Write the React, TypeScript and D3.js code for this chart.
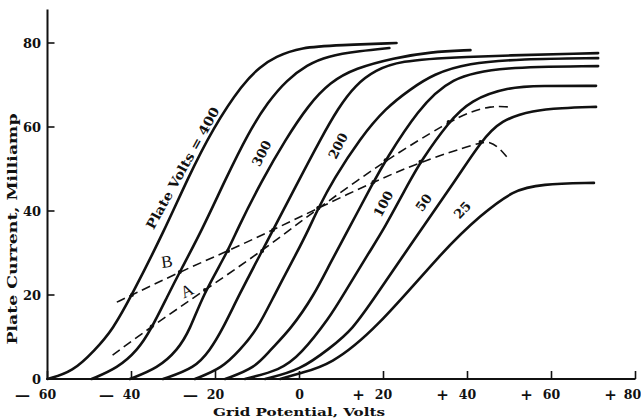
import React from "react";
import * as d3 from "d3";

const W = 641;
const H = 420;

const xTicks = [-60, -40, -20, 0, 20, 40, 60, 80];
const xTickSigns = ["—", "—", "—", "", "+", "+", "+", "+"];
const xTickNumbers = ["60", "40", "20", "0", "20", "40", "60", "80"];
const yTicks = [0, 20, 40, 60, 80];
const yTickLabels = ["0", "20", "40", "60", "80"];

const plateVolts = [400, 350, 300, 250, 200, 150, 100, 50, 25];

// [grid volts, plate current mA]
const curve400 = [[-60, 0], [-54, 1.7], [-48.7, 6.9], [-44.5, 11.7], [-39.9, 20], [-32.1, 35.5], [-26.8, 47.4], [-20.6, 59.8], [-13.4, 70.5], [-9.4, 74.3], [-5.8, 76.7], [0.2, 79], [9.7, 79.5], [23.1, 80]];
const curve350 = [[-49.5, 0], [-43.3, 2.6], [-38.5, 6.9], [-35.4, 11.7], [-31.3, 20], [-28.5, 25.5], [-23.2, 35.5], [-17.7, 47.4], [-12.2, 58.6], [-7.5, 66], [-3, 71.2], [1.8, 74.8], [6.6, 76.9], [14.5, 78.1], [21.4, 78.8]];
const curve300 = [[-40.4, 0], [-33.7, 2.6], [-29, 6.9], [-26.1, 11.7], [-23, 20], [-17, 30.5], [-14.9, 35.5], [-8.9, 47.4], [-3.4, 56.9], [2.1, 65.2], [7.3, 70.7], [13.3, 74], [22.4, 76.4], [31.2, 77.9], [40.7, 78.3]];
const curve250 = [[-32.5, 0], [-24.9, 2.6], [-21.3, 6.9], [-18.4, 11.7], [-14.4, 20], [-8.9, 30.5], [-6.3, 35.5], [-0.1, 47.4], [4.9, 56.9], [9.2, 64.5], [13.3, 70], [18.1, 73.6], [24, 75.7], [36, 76.7], [71.1, 77.6]];
const curve200 = [[-24.9, 0], [-18.4, 2.6], [-14.2, 6.9], [-10.1, 11.7], [-6, 20], [-0.3, 30.7], [2.1, 35.5], [4.5, 40.7], [8, 47.4], [14.5, 57.4], [20.5, 64.5], [26.4, 69], [31.9, 72.6], [40, 75.2], [52.7, 76.2], [71.1, 76.4]];
const curve150 = [[-17.7, 0], [-10.6, 2.6], [-7, 6.9], [-2.2, 11.7], [3.5, 20], [7.3, 27.6], [11.6, 35.5], [17.6, 46.9], [20.5, 52.1], [28.1, 64], [36, 71.9], [47.9, 74.3], [71.1, 74.5]];
const curve100 = [[-13, 0], [-4.6, 2.1], [0.2, 5.7], [7.3, 14.8], [10.4, 20], [16.9, 30.7], [20, 35.5], [26.4, 47.4], [28.8, 51.7], [35.5, 61.2], [40.7, 66.4], [49.6, 69.5], [57.4, 69.8], [70.6, 69.8]];
const curve50 = [[-8.2, 0], [0.2, 2.1], [7.3, 7.4], [12.6, 11.7], [18.3, 20], [25.6, 30.7], [28.9, 35.5], [37.2, 47.4], [43.1, 56.4], [47.9, 61.7], [55.8, 64], [62.2, 64.5], [70.6, 64.8]];
const curve25 = [[-4.6, 0], [0.2, 1.4], [7.3, 3.3], [18.1, 11.7], [34.3, 30.7], [43.1, 39], [51, 45], [57.4, 46.4], [70.1, 46.7]];

const curves = [curve400, curve350, curve300, curve250, curve200, curve150, curve100, curve50, curve25];

const loadLineA = [[-44.5, 5.7], [-35.2, 12.5], [-22.5, 21.2], [-8.9, 30.5], [4.5, 40.7], [20.5, 52.1], [35.5, 61.2], [40.7, 63.6], [45.5, 65], [49.6, 64.8]];
const loadLineB = [[-43.5, 18.3], [-39.9, 20], [-28.5, 25.5], [-17, 30.5], [-6.3, 35.5], [4.5, 40.7], [17.6, 46.9], [28.8, 51.7], [43.1, 56.4], [45.3, 56.5], [47.4, 55.2], [49.6, 52.6]];
const dotsA = [[-35.2, 12.5], [-22.5, 21.2], [-8.9, 30.5], [4.5, 40.7], [20.5, 52.1], [35.5, 61.2]];
const dotsB = [[-39.9, 20], [-28.5, 25.5], [-17, 30.5], [-6.3, 35.5], [4.5, 40.7], [17.6, 46.9], [28.8, 51.7], [43.1, 56.4]];

const curveLabels = ["Plate Volts = 400", "300", "200", "100", "50", "25"];
const curveLabelPos = [[-27.8, 50.2, -61], [-9.0, 53.7, -63], [9.2, 55.5, -63], [20.0, 41.7, -62], [29.6, 42.0, -55], [38.8, 40.2, -47]];
const lineLabels = ["B", "A"];
const lineLabelPos = [[-31.6, 27.9, -8], [-26.8, 21.0, -25]];

const x = d3.scaleLinear().domain([-60, 80]).range([47.5, 635.5]);
const y = d3.scaleLinear().domain([0, 80]).range([379, 43]);

const smooth = d3
  .line<number[]>()
  .x((d) => x(d[0]))
  .y((d) => y(d[1]))
  .curve(d3.curveBasis);

const serif = "'DejaVu Serif', 'Liberation Serif', serif";

export default function App() {
  const x0 = x(-60);
  const y0 = y(0);
  return (
    <svg
      width={W}
      height={H}
      viewBox={`0 0 ${W} ${H}`}
      style={{ position: "absolute", left: 0, top: 0, background: "#fff" }}
    >
      <rect x={0} y={0} width={W} height={H} fill="#fff" />
      {/* axes */}
      <line x1={x0} y1={y(88)} x2={x0} y2={y0 + 1} stroke="#111" strokeWidth={2} />
      <line x1={x0 - 1} y1={y0} x2={x(80)} y2={y0} stroke="#111" strokeWidth={2.2} />
      {xTicks.map((t, i) => (
        <g key={"xt" + i}>
          <line x1={x(t)} y1={y0} x2={x(t)} y2={y0 - 8} stroke="#111" strokeWidth={1.6} />
          {xTickSigns[i] && (
            <text
              x={x(t) - 25}
              y={y0 + 21}
              textAnchor="middle"
              fontFamily={serif}
              fontWeight="bold"
              fontSize={15}
              fill="#111"
            >
              {xTickSigns[i]}
            </text>
          )}
          <text
            x={i === xTicks.length - 1 ? x(t) - 3 : x(t)}
            y={y0 + 20}
            textAnchor="middle"
            fontFamily={serif}
            fontWeight="bold"
            fontSize={12.5}
            fill="#111"
          >
            {xTickNumbers[i]}
          </text>
        </g>
      ))}
      {yTicks.map((t, i) => (
        <g key={"yt" + i}>
          {t > 0 && <line x1={x0} y1={y(t)} x2={x0 + 7} y2={y(t)} stroke="#111" strokeWidth={1.6} />}
          <text
            x={41}
            y={y(t) + 4.5}
            textAnchor="end"
            fontFamily={serif}
            fontWeight="bold"
            fontSize={13}
            fill="#111"
          >
            {yTickLabels[i]}
          </text>
        </g>
      ))}
      <text
        x={299}
        y={416}
        textAnchor="middle"
        fontFamily={serif}
        fontWeight="bold"
        fontSize={11.5}
        textLength={172}
        lengthAdjust="spacingAndGlyphs"
        fill="#111"
      >
        Grid Potential, Volts
      </text>
      <text
        transform={`translate(17,229) rotate(-90)`}
        textAnchor="middle"
        fontFamily={serif}
        fontWeight="bold"
        fontSize={12}
        textLength={231}
        lengthAdjust="spacingAndGlyphs"
        fill="#111"
      >
        Plate Current, Milliamp
      </text>

      {/* characteristic curves */}
      {curves.map((c, i) => (
        <path
          key={"c" + plateVolts[i]}
          d={smooth(c) || ""}
          fill="none"
          stroke="#111"
          strokeWidth={2.6}
          strokeLinecap="round"
        />
      ))}

      {/* load lines */}
      {[loadLineA, loadLineB].map((c, i) => (
        <path
          key={"ll" + i}
          d={smooth(c) || ""}
          fill="none"
          stroke="#111"
          strokeWidth={1.6}
          strokeDasharray="9 5"
        />
      ))}
      {[...dotsA, ...dotsB].map((d, i) => (
        <circle key={"d" + i} cx={x(d[0])} cy={y(d[1])} r={2} fill="#111" />
      ))}

      {/* labels */}
      {curveLabels.map((s, i) => {
        const p = curveLabelPos[i];
        return (
          <text
            key={"cl" + i}
            transform={`translate(${x(p[0])},${y(p[1])}) rotate(${p[2]})`}
            textAnchor="middle"
            dominantBaseline="central"
            fontFamily={serif}
            fontWeight="bold"
            fontSize={13}
            textLength={i === 0 ? 137 : undefined}
            lengthAdjust={i === 0 ? "spacingAndGlyphs" : undefined}
            fill="#111"
          >
            {s}
          </text>
        );
      })}
      {lineLabels.map((s, i) => {
        const p = lineLabelPos[i];
        return (
          <text
            key={"ll" + i}
            transform={`translate(${x(p[0])},${y(p[1])}) rotate(${p[2]})`}
            textAnchor="middle"
            dominantBaseline="central"
            fontFamily="'Liberation Serif', 'DejaVu Serif', serif"
            fontSize={17}
            fill="#111"
          >
            {s}
          </text>
        );
      })}
    </svg>
  );
}
